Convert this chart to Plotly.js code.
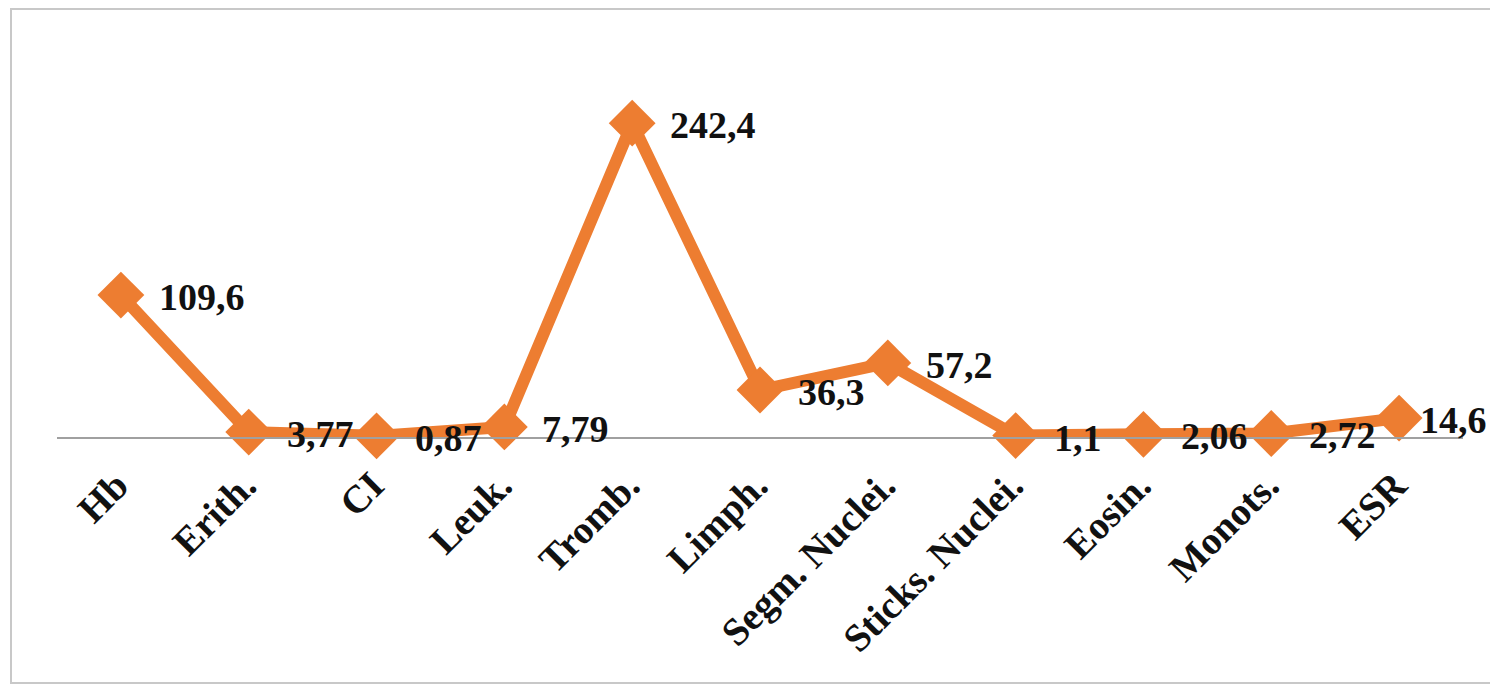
<!DOCTYPE html>
<html>
<head>
<meta charset="utf-8">
<script src="https://cdn.plot.ly/plotly-3.0.1.min.js"></script>
<style>
html,body{margin:0;padding:0;background:#fff;}
#wrap{position:relative;width:1490px;height:686px;overflow:hidden;}
#chart{width:1490px;height:686px;}
#frame{position:absolute;left:10px;top:8px;width:1490px;height:676px;border:2px solid #C8C8C8;box-sizing:border-box;pointer-events:none;}
</style>
</head>
<body>
<div id="wrap">
<div id="chart"></div>
<div id="frame"></div>
</div>
<script>
const categories = ["Hb", "Erith.", "CI", "Leuk.", "Tromb.", "Limph.", "Segm. Nuclei.", "Sticks. Nuclei.", "Eosin.", "Monots.", "ESR"];
const values = [109.6, 3.77, 0.87, 7.79, 242.4, 36.3, 57.2, 1.1, 2.06, 2.72, 14.6];
const valueLabels = ["109,6", "3,77", "0,87", "7,79", "242,4", "36,3", "57,2", "1,1", "2,06", "2,72", "14,6"];

const orange = "#ED7D31";
const serif = "'Liberation Serif', 'Times New Roman', serif";

const annotations = categories.map((c, i) => ({
  x: c,
  y: values[i],
  xref: "x",
  yref: "y",
  text: valueLabels[i],
  showarrow: false,
  xanchor: "left",
  yanchor: "middle",
  xshift: i === categories.length - 1 ? 19 : 36,
  yshift: -2,
  font: {family: serif, size: 38, color: "#111", weight: "bold"}
}));

Plotly.newPlot("chart", [{
  type: "scatter",
  mode: "lines+markers",
  x: categories,
  y: values,
  line: {color: orange, width: 12},
  marker: {symbol: "diamond", size: 36, color: orange},
  cliponaxis: false,
  hoverinfo: "skip"
}], {
  width: 1490,
  height: 686,
  margin: {l: 57, r: 27, t: 40, b: 249},
  paper_bgcolor: "#fff",
  plot_bgcolor: "#fff",
  showlegend: false,
  annotations: annotations,
  xaxis: {
    type: "category",
    range: [-0.5, 10.5],
    tickangle: -45,
    tickfont: {family: serif, size: 39, color: "#111", weight: "bold"},
    ticklabelstandoff: 8,
    ticklabelshift: -4,
    showgrid: false,
    zeroline: false,
    showline: true,
    linecolor: "#A0A0A0",
    linewidth: 2,
    ticks: "",
    fixedrange: true
  },
  yaxis: {
    range: [0, 306.6],
    visible: false,
    showgrid: false,
    zeroline: false,
    fixedrange: true
  }
}, {displayModeBar: false, staticPlot: true});
</script>
</body>
</html>
